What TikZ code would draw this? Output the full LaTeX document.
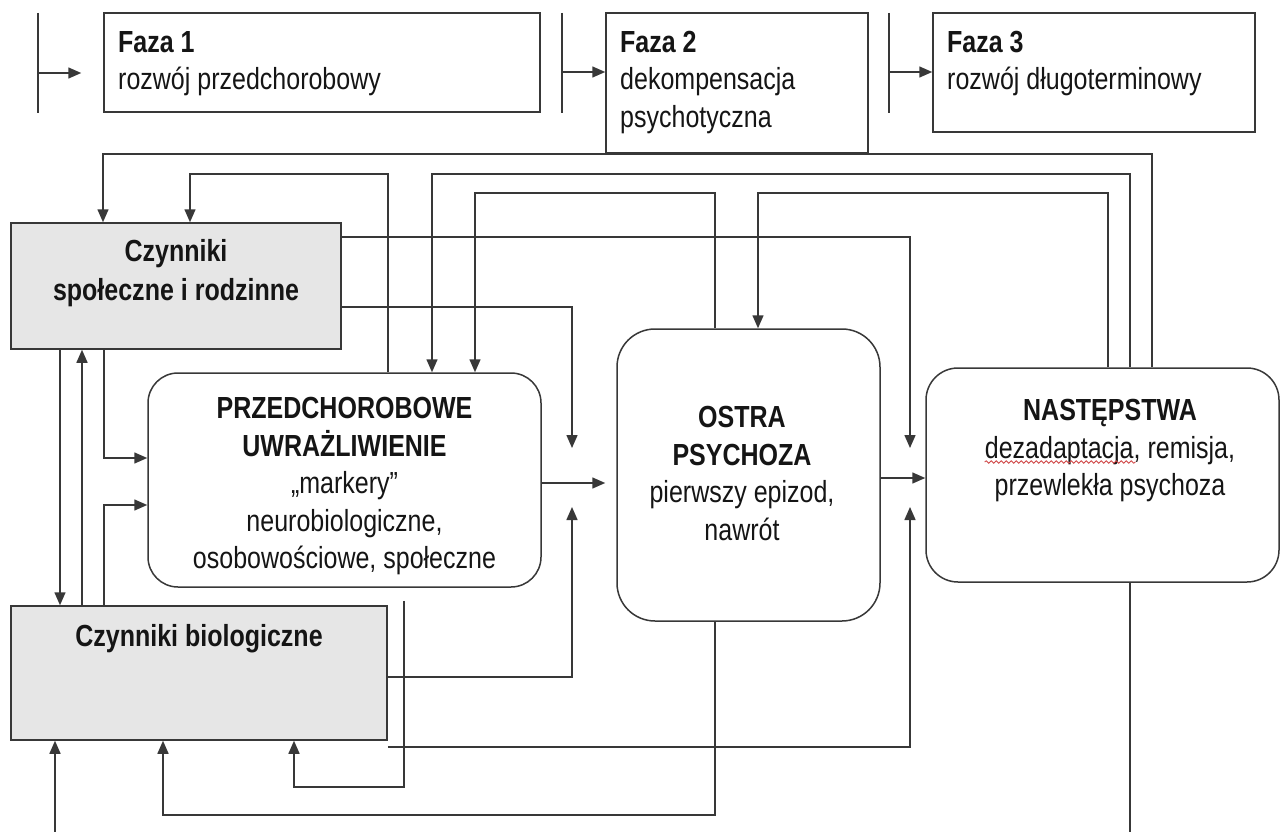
\documentclass[tikz,border=0pt]{standalone}
\usepackage{fontspec}
\setmainfont{Liberation Sans}[FakeStretch=0.82]
\usetikzlibrary{arrows.meta,decorations.pathmorphing}

\definecolor{lc}{HTML}{383838}
\definecolor{tc}{HTML}{151515}
\definecolor{boxgray}{HTML}{E6E6E6}
\definecolor{spell}{HTML}{D04848}

\tikzset{
  ln/.style={draw=lc, line width=1.5pt},
  arr/.style={ln, -{Triangle[length=13pt,width=11pt]}},
  plainbox/.style={draw=lc, line width=1.5pt, rectangle, inner sep=0pt, fill=white},
  factorbox/.style={plainbox, fill=boxgray},
  roundbox/.style={plainbox, rounded corners=#1},
  txt/.style={inner sep=0pt, text=tc, align=center,
    font=\fontsize{30.5}{37.5}\selectfont},
  phasetxt/.style={txt, align=left, anchor=north west},
  squig/.style={draw=spell, line width=0.8pt, decorate,
    decoration={snake, amplitude=1.2pt, segment length=5pt}}
}

\begin{document}
\begin{tikzpicture}[x=1pt, y=-1pt]
\fill[white] (0,0) rectangle (1280,832);
\useasboundingbox (0,0) rectangle (1280,832);

% ---- phase header ----
\node[plainbox, minimum width=436, minimum height=99]  (f1) at (322,62.5) {};
\node[plainbox, minimum width=262, minimum height=140] (f2) at (737,83) {};
\node[plainbox, minimum width=322, minimum height=119] (f3) at (1094,72.5) {};

\node[phasetxt] (f1t) at (118,31) {\textbf{Faza 1}\\rozwój przedchorobowy};
\node[phasetxt] (f2t) at (620,31) {\textbf{Faza 2}\\dekompensacja\\psychotyczna};
\node[phasetxt] (f3t) at (947,31) {\textbf{Faza 3}\\rozwój długoterminowy};

% phase boundaries
\coordinate (t1a) at (38,13);  \coordinate (t1b) at (38,113);  \coordinate (t1) at (38,73);
\coordinate (t2a) at (562,13); \coordinate (t2b) at (562,113); \coordinate (t2) at (562,72);
\coordinate (t3a) at (889,13); \coordinate (t3b) at (889,113); \coordinate (t3) at (889,72);
\draw[ln] (t1a) -- (t1b);
\draw[ln] (t2a) -- (t2b);
\draw[ln] (t3a) -- (t3b);
\draw[arr, shorten >=22pt] (t1) -- (t1 -| f1.west);
\draw[arr] (t2) -- (t2 -| f2.west);
\draw[arr] (t3) -- (t3 -| f3.west);

% ---- main blocks ----
\node[factorbox, minimum width=330, minimum height=126] (soc) at (176,286) {};
\node[factorbox, minimum width=376, minimum height=134] (bio) at (199,673) {};
\node[roundbox=30, minimum width=393, minimum height=214] (przed) at (344.5,480) {};
\node[roundbox=38, minimum width=263, minimum height=292] (ostra) at (748.5,475) {};
\node[roundbox=32, minimum width=353, minimum height=214] (nast) at (1102.5,475) {};

\node[txt, anchor=north, font=\fontsize{30.5}{39}\selectfont] (soct) at (176,239)
  {\textbf{Czynniki}\\\textbf{społeczne i rodzinne}};
\node[txt, anchor=north] (biot) at (199,624) {\textbf{Czynniki biologiczne}};
\node[txt, anchor=north] (przedt) at (344.5,397)
  {\textbf{PRZEDCHOROBOWE}\\\textbf{UWRAŻLIWIENIE}\\„markery”\\neurobiologiczne,\\osobowościowe, społeczne};
\node[txt, anchor=north] (ostrat) at (742,406)
  {\textbf{OSTRA}\\\textbf{PSYCHOZA}\\pierwszy epizod,\\nawrót};
\node[txt, anchor=north] (nastt) at (1110,399)
  {\textbf{NASTĘPSTWA}\\dezadaptacja, remisja,\\przewlekła psychoza};
\draw[squig] ([yshift=-63pt]nastt.north west) -- ++(151,0);

% ---- columns and rows of the connector grid ----
\coordinate (cJ) at (60,0);   \coordinate (cK) at (82,0);   \coordinate (cL) at (104,0);
\coordinate (cA) at (103,0);  \coordinate (cB) at (190,0);  \coordinate (cBp) at (388,0);
\coordinate (cC) at (432,0);  \coordinate (cD) at (475,0);  \coordinate (cDo) at (715,0);
\coordinate (cE) at (758,0);  \coordinate (cEn) at (1108,0);\coordinate (cCn) at (1130,0);
\coordinate (cAn) at (1152,0);\coordinate (cP) at (404,0);  \coordinate (cPb) at (294,0);
\coordinate (cQb) at (163,0); \coordinate (cR) at (55,0);
\coordinate (rA) at (0,154);  \coordinate (rB) at (0,174);  \coordinate (rD) at (0,193);
\coordinate (rF) at (0,237);  \coordinate (rG) at (0,307);  \coordinate (rL) at (0,458);
\coordinate (rM) at (0,505);  \coordinate (rH) at (0,483);  \coordinate (rI) at (0,478);
\coordinate (rN) at (0,677);  \coordinate (rO) at (0,747);  \coordinate (rP) at (0,787);
\coordinate (rQ) at (0,815);
\coordinate (fTip) at (910,448); \coordinate (gTip) at (572,448);
\coordinate (nTip) at (572,507); \coordinate (oTip) at (910,507);
\coordinate (rEnd) at (55,832);  \coordinate (sEnd) at (1130,832);

% feedback loops over the top
\draw[arr] (nast.north -| cAn) |- (rA -| cA) -- (soc.north -| cA);
\draw[arr] (przed.north -| cBp) |- (rB -| cB) -- (soc.north -| cB);
\draw[arr] (nast.north -| cCn) |- (rB -| cC) -- (przed.north -| cC);
\draw[arr] (ostra.north -| cDo) |- (rD -| cD) -- (przed.north -| cD);
\draw[arr] (nast.north -| cEn) |- (rD -| cE) -- (ostra.north -| cE);

% social factors feeding forward
\draw[arr] (soc.east |- rF) -| (fTip);
\draw[arr] (soc.east |- rG) -| (gTip);

% main chain
\draw[arr, shorten >=11pt] (przed.east |- rH) -- (ostra.west |- rH);
\draw[arr] (ostra.east |- rI) -- (nast.west |- rI);

% between the two factor blocks
\draw[arr] (soc.south -| cJ) -- (bio.north -| cJ);
\draw[arr] (bio.north -| cK) -- (soc.south -| cK);
\draw[arr] (soc.south -| cL) |- (przed.west |- rL);
\draw[arr] (bio.north -| cL) |- (przed.west |- rM);

% biological factors feeding forward
\draw[arr] (bio.east |- rN) -| (nTip);
\draw[arr] (bio.east |- rO) -| (oTip);

% feedback loops underneath
\draw[arr, shorten <=13pt] (przed.south -| cP) |- (rP -| cPb) -- (bio.south -| cPb);
\draw[arr] (ostra.south -| cDo) |- (rQ -| cQb) -- (bio.south -| cQb);
\draw[arr] (rEnd) -- (bio.south -| cR);
\draw[ln] (nast.south -| cCn) -- (sEnd);
\end{tikzpicture}
\end{document}
